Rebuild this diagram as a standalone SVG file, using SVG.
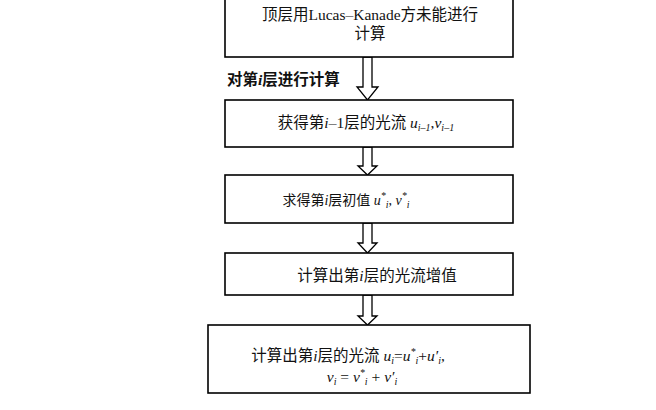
<svg xmlns="http://www.w3.org/2000/svg" width="656" height="410" viewBox="0 0 656 410">
<style>
.box{fill:#fff;stroke:#000;stroke-width:1.6}
.arr{fill:#fff;stroke:#000;stroke-width:1.3;stroke-linejoin:miter}
.t{font-family:"Liberation Serif","Noto Sans CJK SC",serif;font-size:15.5px;fill:#111;text-anchor:middle}
.lbl{font-family:"Liberation Serif","Noto Sans CJK SC",serif;font-size:15.5px;font-weight:bold;fill:#111}
.v{font-style:italic}
.s{font-size:10px;font-style:italic}
</style>
<rect width="656" height="410" fill="#fff"/>
<g id="connectors">
<polygon class="arr" points="363,57 372,57 372,87 378,87 367.5,100 357,87 363,87"/>
<polygon class="arr" points="363,147 372,147 372,166 377,166 367.5,175 358,166 363,166"/>
<polygon class="arr" points="363,223 372,223 372,243 377,243 367.5,253 358,243 363,243"/>
<polygon class="arr" points="363,295 372,295 372,316 377,316 367.5,325 358,316 363,316"/>
<text class="lbl" x="227" y="85">对第<tspan class="v">i</tspan>层进行计算</text>
</g>
<g id="n1">
<rect class="box" x="225" y="-5" width="288" height="62"/>
<text class="t" x="370" y="20">顶层用Lucas–Kanade方未能进行</text>
<text class="t" x="370" y="39">计算</text>
</g>
<g id="n2">
<rect class="box" x="225" y="100" width="288" height="47"/>
<text class="t" x="366" y="128">获得第<tspan class="v">i</tspan>–1层的光流 <tspan class="v">u</tspan><tspan class="s" dy="3">i–1</tspan><tspan dy="-3">,</tspan><tspan class="v">v</tspan><tspan class="s" dy="3">i–1</tspan></text>
</g>
<g id="n3">
<rect class="box" x="225" y="175" width="288" height="48"/>
<text class="t" x="346" y="205" style="font-size:14px">求得第<tspan class="v">i</tspan>层初值 <tspan class="v">u</tspan><tspan class="s" dy="-6">*</tspan><tspan class="s" dy="9">i</tspan><tspan dy="-3">, </tspan><tspan class="v">v</tspan><tspan class="s" dy="-6">*</tspan><tspan class="s" dy="9">i</tspan></text>
</g>
<g id="n4">
<rect class="box" x="225" y="253" width="288" height="42"/>
<text class="t" x="377" y="281">计算出第<tspan class="v">i</tspan>层的光流增值</text>
</g>
<g id="n5">
<rect class="box" x="208" y="325" width="322" height="68"/>
<text class="t" x="348" y="361">计算出第<tspan class="v">i</tspan>层的光流 <tspan class="v">u</tspan><tspan class="s" dy="3">i</tspan><tspan dy="-3">=</tspan><tspan class="v">u</tspan><tspan class="s" dy="-6">*</tspan><tspan class="s" dy="9">i</tspan><tspan dy="-3">+</tspan><tspan class="v">u′</tspan><tspan class="s" dy="3">i</tspan><tspan dy="-3">,</tspan></text>
<text class="t" x="362" y="382"><tspan class="v">v</tspan><tspan class="s" dy="3">i</tspan><tspan dy="-3"> = </tspan><tspan class="v">v</tspan><tspan class="s" dy="-6">*</tspan><tspan class="s" dy="9">i</tspan><tspan dy="-3"> + </tspan><tspan class="v">v′</tspan><tspan class="s" dy="3">i</tspan></text>
</g>
</svg>
